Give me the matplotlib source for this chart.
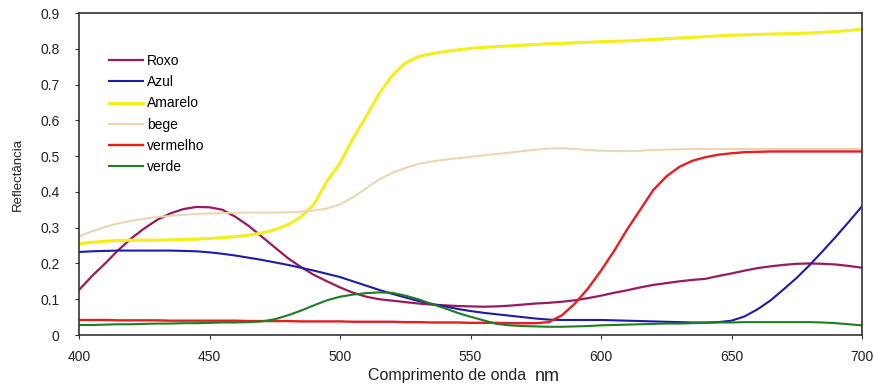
import matplotlib
matplotlib.use("Agg")
import matplotlib.pyplot as plt

plt.rcParams["font.family"] = ["Liberation Sans", "DejaVu Sans"]

wavelength = list(range(400, 701, 5))

roxo = [0.126, 0.165, 0.200, 0.237, 0.270, 0.298, 0.322, 0.340, 0.352, 0.358,
        0.357, 0.350, 0.330, 0.305, 0.275, 0.245, 0.215, 0.190, 0.168, 0.150,
        0.133, 0.118, 0.107, 0.100, 0.096, 0.092, 0.088, 0.085, 0.083, 0.081,
        0.080, 0.079, 0.080, 0.082, 0.085, 0.088, 0.090, 0.093, 0.097, 0.103,
        0.110, 0.118, 0.125, 0.133, 0.140, 0.145, 0.150, 0.154, 0.157, 0.165,
        0.172, 0.180, 0.187, 0.192, 0.196, 0.199, 0.200, 0.199, 0.197, 0.193,
        0.188]
azul = [0.232, 0.234, 0.235, 0.236, 0.236, 0.236, 0.236, 0.236, 0.235, 0.234,
        0.231, 0.227, 0.222, 0.216, 0.210, 0.203, 0.196, 0.188, 0.180, 0.171,
        0.162, 0.150, 0.138, 0.126, 0.115, 0.105, 0.095, 0.087, 0.080, 0.073,
        0.067, 0.062, 0.058, 0.054, 0.050, 0.046, 0.043, 0.042, 0.042, 0.042,
        0.042, 0.041, 0.040, 0.039, 0.038, 0.037, 0.036, 0.035, 0.035, 0.036,
        0.040, 0.052, 0.072, 0.097, 0.128, 0.160, 0.196, 0.235, 0.275, 0.317,
        0.360]
amarelo = [0.255, 0.259, 0.262, 0.264, 0.265, 0.265, 0.265, 0.266, 0.267, 0.268,
           0.270, 0.272, 0.275, 0.279, 0.285, 0.294, 0.308, 0.330, 0.365, 0.430,
           0.480, 0.550, 0.610, 0.675, 0.725, 0.760, 0.778, 0.786, 0.792, 0.797,
           0.801, 0.804, 0.806, 0.808, 0.810, 0.812, 0.814, 0.815, 0.817, 0.818,
           0.820, 0.821, 0.822, 0.824, 0.826, 0.828, 0.830, 0.832, 0.834, 0.836,
           0.838, 0.839, 0.840, 0.841, 0.842, 0.843, 0.844, 0.846, 0.848, 0.851,
           0.855]
bege = [0.275, 0.290, 0.302, 0.312, 0.319, 0.325, 0.330, 0.333, 0.336, 0.338,
        0.340, 0.341, 0.342, 0.342, 0.342, 0.342, 0.343, 0.345, 0.348, 0.354,
        0.365, 0.385, 0.410, 0.435, 0.453, 0.467, 0.478, 0.485, 0.490, 0.494,
        0.498, 0.502, 0.506, 0.510, 0.514, 0.518, 0.521, 0.522, 0.520, 0.517,
        0.515, 0.514, 0.514, 0.515, 0.517, 0.518, 0.519, 0.520, 0.520, 0.520,
        0.520, 0.520, 0.520, 0.520, 0.520, 0.520, 0.520, 0.520, 0.520, 0.520,
        0.520]
vermelho = [0.042, 0.042, 0.042, 0.041, 0.041, 0.041, 0.041, 0.040, 0.040, 0.040,
            0.040, 0.040, 0.040, 0.039, 0.039, 0.039, 0.039, 0.038, 0.038, 0.038,
            0.038, 0.037, 0.037, 0.037, 0.037, 0.036, 0.036, 0.035, 0.035, 0.035,
            0.034, 0.034, 0.034, 0.033, 0.033, 0.033, 0.036, 0.055, 0.088, 0.130,
            0.180, 0.235, 0.295, 0.350, 0.405, 0.443, 0.470, 0.487, 0.497, 0.504,
            0.508, 0.511, 0.512, 0.513, 0.513, 0.513, 0.513, 0.513, 0.513, 0.513,
            0.513]
verde = [0.028, 0.028, 0.029, 0.030, 0.030, 0.031, 0.032, 0.032, 0.033, 0.033,
         0.034, 0.035, 0.035, 0.036, 0.038, 0.044, 0.055, 0.068, 0.083, 0.097,
         0.107, 0.113, 0.117, 0.119, 0.118, 0.110, 0.100, 0.087, 0.075, 0.062,
         0.051, 0.041, 0.031, 0.027, 0.025, 0.024, 0.023, 0.023, 0.024, 0.025,
         0.027, 0.028, 0.029, 0.030, 0.031, 0.032, 0.032, 0.033, 0.034, 0.035,
         0.035, 0.036, 0.036, 0.036, 0.036, 0.036, 0.036, 0.035, 0.033, 0.030,
         0.027]

series = [
    ("Roxo", roxo, "#9a1a5e", 1.6),
    ("Azul", azul, "#1c1ca8", 1.5),
    ("Amarelo", amarelo, "#f4ee1a", 2.2),
    ("bege", bege, "#efd2ae", 1.4),
    ("vermelho", vermelho, "#e61e24", 1.7),
    ("verde", verde, "#1f7d24", 1.5),
]

x_ticks = [400, 450, 500, 550, 600, 650, 700]
y_ticks = [0, 0.1, 0.2, 0.3, 0.4, 0.5, 0.6, 0.7, 0.8, 0.9]
y_labels = ["0", "0.1", "0.2", "0.3", "0.4", "0.5", "0.6", "0.7", "0.8", "0.9"]

fig = plt.figure(figsize=(8.79, 3.92), dpi=100)
ax = fig.add_axes([0.0899, 0.1454, 0.8908, 0.8214])

for name, vals, color, lw in series:
    ax.plot(wavelength, vals, color=color, lw=lw, label=name)

ax.set_xlim(400, 700)
ax.set_ylim(0, 0.9)
ax.set_xticks(x_ticks)
ax.set_yticks(y_ticks)
ax.set_yticklabels(y_labels)
ax.tick_params(axis="both", labelsize=10, direction="out", length=3,
               width=0.8, colors="#333333", labelcolor="#222222")
ax.tick_params(axis="y", pad=11)
ax.tick_params(axis="x", pad=8)
for sp in ax.spines.values():
    sp.set_color("#333333")
    sp.set_linewidth(1.2)

ax.set_ylabel("Reflectância", fontsize=9.5, color="#222222", labelpad=12)

fig.text(0.598, 0.022, "Comprimento de onda", fontsize=11.5, ha="right",
         va="bottom", color="#222222")
fig.text(0.608, 0.019, "nm", fontsize=13, ha="left", va="bottom",
         color="#222222")

leg = ax.legend(loc="upper left", bbox_to_anchor=(0.031, 0.89), frameon=False,
                fontsize=10, handlelength=2.45, handletextpad=0.3,
                labelspacing=0.52, borderaxespad=0)

fig.savefig("out.png", dpi=100)
